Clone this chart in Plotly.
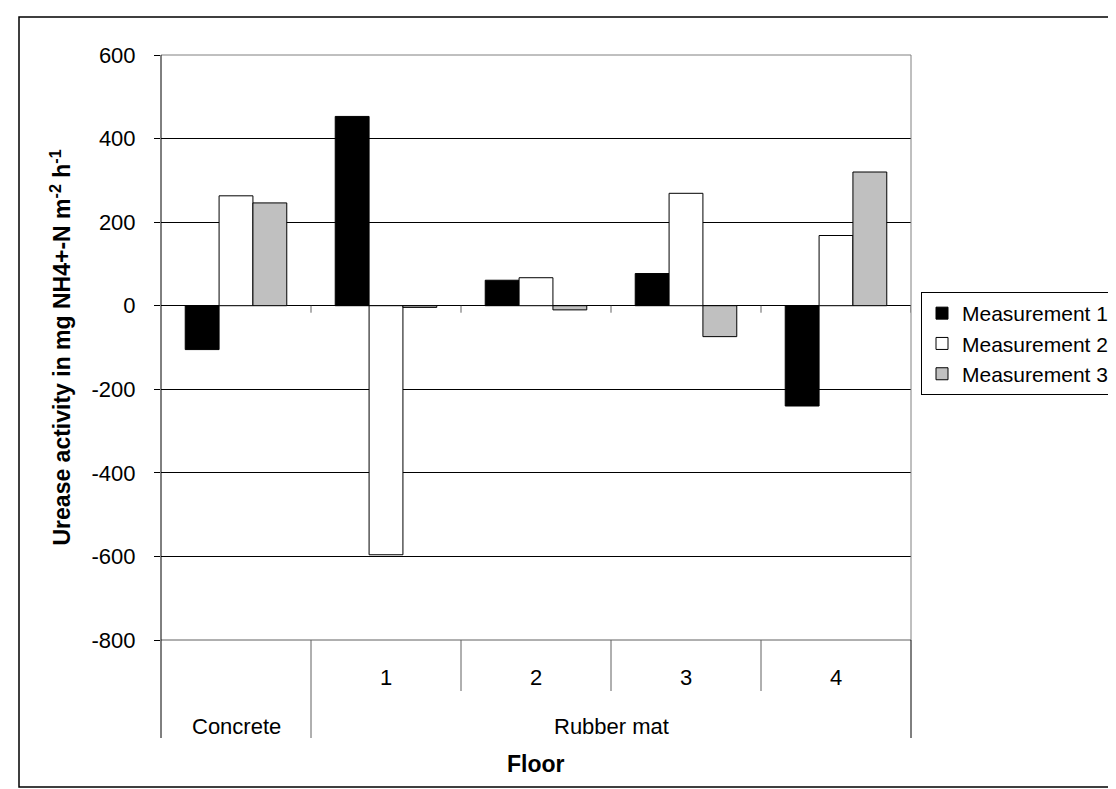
import plotly.graph_objects as go

# ---- data ----
sub_labels = ["", "1", "2", "3", "4"]
group_labels = ["Concrete", "Rubber mat", "Rubber mat", "Rubber mat", "Rubber mat"]
series_names = ["Measurement 1", "Measurement 2", "Measurement 3"]
m1 = [-105, 453, 61, 77, -240]
m2 = [263, -596, 67, 269, 168]
m3 = [246, -4, -10, -74, 320]
y_ticks = [-800, -600, -400, -200, 0, 200, 400, 600]

colors = ["#000000", "#ffffff", "#c0c0c0"]
FONT = "Liberation Sans, Arial, sans-serif"

# plot area geometry in page pixels
W, H = 1116, 789
L, R, T, B = 153, 903, 47, 632
pw, ph = R - L, B - T

def py(pix):
    return (B - pix) / ph

def pxp(pix):
    return (pix - L) / pw

xs = list(range(len(sub_labels)))

fig = go.Figure()
for name, vals, c in zip(series_names, [m1, m2, m3], colors):
    fig.add_trace(go.Bar(x=xs, y=vals, name=name,
                         marker=dict(color=c, line=dict(color="#000000", width=1))))

shapes = []
# outer chart frame
shapes.append(dict(type="rect", xref="paper", yref="paper",
                   x0=pxp(11), x1=pxp(1125), y0=py(779), y1=py(9),
                   line=dict(color="#000000", width=1.5), layer="below"))
# plot area border (top, right) grey
shapes.append(dict(type="line", xref="paper", yref="paper", x0=0, x1=1, y0=1, y1=1,
                   line=dict(color="#808080", width=1), layer="above"))
shapes.append(dict(type="line", xref="paper", yref="paper", x0=1, x1=1, y0=0, y1=1,
                   line=dict(color="#808080", width=1), layer="above"))
# bottom of plot / top line of category table
shapes.append(dict(type="line", xref="paper", yref="paper", x0=0, x1=1, y0=0, y1=0,
                   line=dict(color="#606060", width=1), layer="above"))
# y axis line extending through table
shapes.append(dict(type="line", xref="paper", yref="paper", x0=0, x1=0, y0=py(730), y1=1,
                   line=dict(color="#000000", width=1), layer="above"))
# table dividers
n = len(sub_labels)
for i in range(n - 1):
    boundary = i + 0.5
    if group_labels[i] != group_labels[i + 1]:
        y_end = py(730)
    else:
        y_end = py(683)
    shapes.append(dict(type="line", xref="x", yref="paper", x0=boundary, x1=boundary,
                       y0=0, y1=y_end, line=dict(color="#606060", width=1)))
    # small ticks on zero line
    shapes.append(dict(type="line", xref="x", yref="y", ysizemode="pixel", yanchor=0,
                       x0=boundary, x1=boundary, y0=0, y1=-7,
                       line=dict(color="#606060", width=1)))
shapes.append(dict(type="line", xref="paper", yref="paper", x0=1, x1=1,
                   y0=py(730), y1=0, line=dict(color="#000000", width=1)))
shapes.append(dict(type="line", xref="x", yref="y", ysizemode="pixel", yanchor=0,
                   x0=n - 0.5, x1=n - 0.5, y0=0, y1=-7,
                   line=dict(color="#606060", width=1)))

annotations = []
for i, s in enumerate(sub_labels):
    if s:
        annotations.append(dict(x=i, y=py(669), xref="x", yref="paper", text=s,
                                showarrow=False, font=dict(family=FONT, size=22, color="#000000"),
                                xanchor="center", yanchor="middle"))
# group labels
groups = []
for i, g in enumerate(group_labels):
    if not groups or groups[-1][0] != g:
        groups.append([g, [i]])
    else:
        groups[-1][1].append(i)
for g, idx in groups:
    annotations.append(dict(x=sum(idx) / len(idx), y=py(718), xref="x", yref="paper", text=g,
                            showarrow=False, font=dict(family=FONT, size=22, color="#000000"),
                            xanchor="center", yanchor="middle"))
annotations.append(dict(x=0.5, y=py(756), xref="paper", yref="paper", text="<b>Floor</b>",
                        showarrow=False, font=dict(family=FONT, size=23, color="#000000"),
                        xanchor="center", yanchor="middle"))
annotations.append(dict(x=pxp(52), y=0.5, xref="paper", yref="paper",
                        text="<b>Urease activity in mg NH4+-N m<sup>-2</sup> h<sup>-1</sup></b>",
                        textangle=-90, showarrow=False,
                        font=dict(family=FONT, size=23, color="#000000"),
                        xanchor="center", yanchor="middle"))

fig.update_layout(
    width=W, height=H,
    margin=dict(l=L, r=W - R, t=T, b=H - B, autoexpand=False),
    paper_bgcolor="#ffffff", plot_bgcolor="#ffffff",
    barmode="group", bargap=0.323, bargroupgap=0,
    font=dict(family=FONT, size=22, color="#000000"),
    xaxis=dict(range=[-0.5, n - 0.5], showticklabels=False, showgrid=False,
               zeroline=False, showline=False, ticks="", fixedrange=True),
    yaxis=dict(range=[-800, 600], tickvals=y_ticks, ticktext=[str(v) for v in y_ticks],
               ticks="outside", ticklen=6,
               tickcolor="#000000", tickwidth=1, showgrid=True, gridcolor="#000000",
               gridwidth=1, zeroline=True, zerolinecolor="#000000", zerolinewidth=1,
               showline=False, ticklabelstandoff=14,
               tickfont=dict(family=FONT, size=22, color="#000000")),
    legend=dict(x=pxp(913), y=py(284), xanchor="left", yanchor="top",
                bordercolor="#000000", borderwidth=1, bgcolor="#ffffff",
                font=dict(family=FONT, size=21, color="#000000"),
                itemwidth=30, tracegroupgap=0),
    shapes=shapes, annotations=annotations,
    showlegend=True,
)

fig.write_html("out.html")
